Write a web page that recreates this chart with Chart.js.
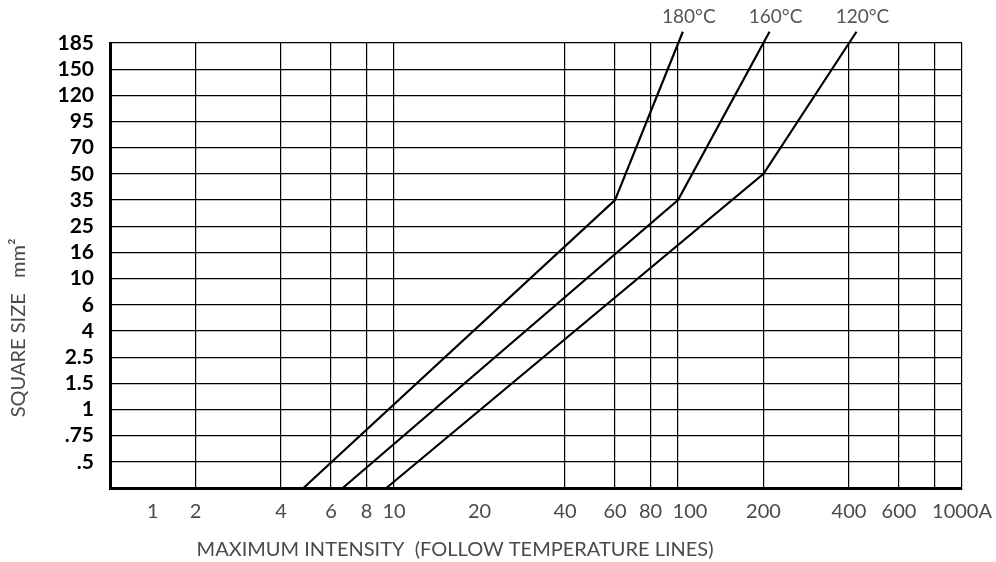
<!DOCTYPE html>
<html>
<head>
<meta charset="utf-8">
<script src="https://cdn.jsdelivr.net/npm/chart.js@4.4.0/dist/chart.umd.min.js"></script>
<style>
  html, body { margin: 0; padding: 0; background: #fff; }
  #wrap { width: 996px; height: 562px; }
</style>
</head>
<body>
<div id="wrap"><canvas id="chart"></canvas></div>
<script>
// Eixo X (intensidade, escala log) - valores dos ticks e textos
const intensityTicks = [1, 2, 4, 6, 8, 10, 20, 40, 60, 80, 100, 200, 400, 600, 800, 1000];
const intensityLabels = ['1', '2', '4', '6', '8', '10', '20', '40', '60', '80', '100', '200', '400', '600', '', '1000A'];
const unlinedTicks = [1, 20]; // ticks sem linha vertical

// Eixo Y (seccao), uma linha por bitola; 0 = eixo inferior
const sizeLabels = ['', '.5', '.75', '1', '1.5', '2.5', '4', '6', '10', '16', '25', '35', '50', '70', '95', '120', '150', '185'];

// Linhas de temperatura: corrente (A) e posicao na escala de seccao
const temperatures = ['180°C', '160°C', '120°C'];
const line180Amps = [4.8, 60, 104];
const line180Rows = [0, 11, 17.43];
const line160Amps = [6.6, 100, 210];
const line160Rows = [0, 11, 17.43];
const line120Amps = [9.4, 200, 425];
const line120Rows = [0, 12, 17.43];

function toPoints(amps, rows) {
    return amps.map((a, i) => ({ x: a, y: rows[i] }));
}

function lineDataset(label, amps, rows) {
    return {
        label: label,
        data: toPoints(amps, rows),
        borderColor: '#000',
        borderWidth: 2.2,
        pointRadius: 0,
        tension: 0,
        fill: false,
        clip: false
    };
}

// O "1" fica no meio do primeiro intervalo e o "100" um pouco a direita, como no original
const labelNudgePlugin = {
    id: 'labelNudge',
    beforeDraw(chart) {
        const sc = chart.scales.x;
        const items = sc.getLabelItems(chart.chartArea);
        items.forEach((item, i) => {
            const v = intensityTicks[i];
            if (v === 1) {
                item.options.translation[0] = (sc.left + sc.getPixelForValue(2)) / 2;
            } else if (v === 100) {
                item.options.translation[0] += 12;
            }
        });
    }
};

// Rotulos de temperatura no topo de cada linha
const tempLabelsPlugin = {
    id: 'tempLabels',
    afterDatasetsDraw(chart) {
        const ctx = chart.ctx;
        ctx.save();
        ctx.fillStyle = '#555';
        ctx.font = '19px Lato';
        ctx.textAlign = 'center';
        ctx.textBaseline = 'middle';
        chart.data.datasets.forEach((ds, i) => {
            const pts = chart.getDatasetMeta(i).data;
            const last = pts[pts.length - 1];
            ctx.fillText(temperatures[i], last.x + 6, last.y - 15);
        });
        ctx.restore();
    }
};

// Titulos dos eixos (fora do centro, como no original)
const axisTitlesPlugin = {
    id: 'axisTitles',
    afterDraw(chart) {
        const { ctx, chartArea } = chart;
        ctx.save();
        ctx.fillStyle = '#4a4a4a';
        ctx.font = '20px Lato';
        ctx.textAlign = 'center';
        ctx.textBaseline = 'middle';
        ctx.fillText('MAXIMUM INTENSITY  (FOLLOW TEMPERATURE LINES)',
            chartArea.left + chartArea.width * 0.405, chartArea.bottom + 62);
        ctx.translate(19, chartArea.bottom - chartArea.height * 0.36);
        ctx.rotate(-Math.PI / 2);
        ctx.fillText('SQUARE SIZE   mm²', 0, 0);
        ctx.restore();
    }
};

const ctx = document.getElementById('chart').getContext('2d');
new Chart(ctx, {
    type: 'line',
    data: {
        datasets: [
            lineDataset(temperatures[0], line180Amps, line180Rows),
            lineDataset(temperatures[1], line160Amps, line160Rows),
            lineDataset(temperatures[2], line120Amps, line120Rows)
        ]
    },
    options: {
        responsive: true,
        maintainAspectRatio: false,
        animation: false,
        layout: { padding: { top: 43, right: 34, left: 0, bottom: 0 } },
        plugins: {
            legend: { display: false },
            tooltip: { enabled: false }
        },
        scales: {
            x: {
                type: 'logarithmic',
                min: 1,
                max: 1000,
                afterBuildTicks: (scale) => {
                    scale.ticks = intensityTicks.map(v => ({ value: v }));
                },
                afterFit: (scale) => {
                    scale.height = 74;
                    // sem margem extra para o rotulo "1000A"
                    scale.paddingLeft = 0;
                    scale.paddingRight = 0;
                },
                grid: {
                    color: (c) => (c.tick && unlinedTicks.includes(c.tick.value)) ? 'rgba(0,0,0,0)' : '#000',
                    lineWidth: 1.2,
                    drawTicks: false
                },
                border: { color: '#000', width: 3 },
                ticks: {
                    autoSkip: false,
                    maxRotation: 0,
                    padding: 12,
                    color: '#4a4a4a',
                    font: { family: 'Lato', size: 20 },
                    callback: (val, idx) => intensityLabels[idx]
                }
            },
            y: {
                type: 'linear',
                min: 0,
                max: 17,
                afterBuildTicks: (scale) => {
                    scale.ticks = sizeLabels.map((_, i) => ({ value: i }));
                },
                afterFit: (scale) => { scale.width = 110; },
                grid: {
                    color: '#000',
                    lineWidth: 1.2,
                    drawTicks: false
                },
                border: { color: '#000', width: 3 },
                ticks: {
                    autoSkip: false,
                    padding: 16,
                    color: '#000',
                    font: { family: 'Lato', size: 21, weight: 'bold' },
                    callback: (val, idx) => sizeLabels[idx]
                }
            }
        }
    },
    plugins: [labelNudgePlugin, tempLabelsPlugin, axisTitlesPlugin]
});
</script>
</body>
</html>
